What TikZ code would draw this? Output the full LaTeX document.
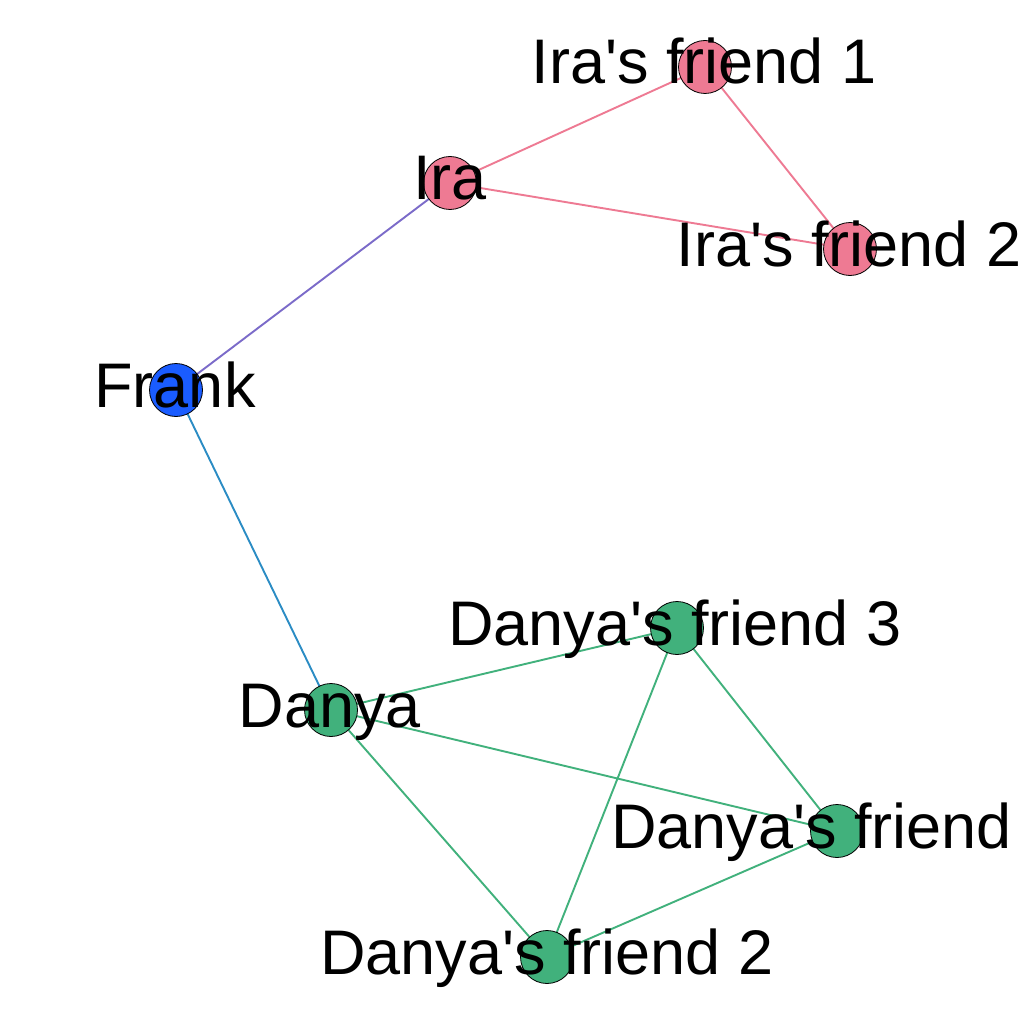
\documentclass[tikz,border=0pt]{standalone}
\usepackage{fontspec}
\setmainfont{Liberation Sans}
\usetikzlibrary{backgrounds}
\definecolor{pinkc}{HTML}{EE7A93}
\definecolor{greenc}{HTML}{41B17C}
\definecolor{bluec}{HTML}{1A5CFF}
\definecolor{purplec}{HTML}{7B6BC9}
\definecolor{edgeblue}{HTML}{2B8CC4}
\newcommand{\ap}{\textquotesingle}
\begin{document}
\begin{tikzpicture}[x=1pt,y=-1pt,
  vert/.style={circle,draw=black,line width=0.8pt,minimum size=53pt,inner sep=0pt},
  lab/.style={anchor=base,inner sep=0pt,font=\fontsize{63}{63}\selectfont},
  edge/.style={line width=1.9pt}]
\useasboundingbox (0,0) rectangle (1024,1024);
% vertices
\node[vert,fill=pinkc] (if1) at (705,67) {};
\node[vert,fill=pinkc] (ira) at (450,183) {};
\node[vert,fill=pinkc] (if2) at (850,249) {};
\node[vert,fill=bluec] (frank) at (176,390) {};
\node[vert,fill=greenc] (df3) at (677,628) {};
\node[vert,fill=greenc] (danya) at (331,710) {};
\node[vert,fill=greenc] (df1) at (837,831) {};
\node[vert,fill=greenc] (df2) at (547,957) {};
% edges
\begin{pgfonlayer}{background}
\fill[white] (0,0) rectangle (1024,1024);
\draw[edge,pinkc] (ira.center) -- (if1.center);
\draw[edge,pinkc] (ira.center) -- (if2.center);
\draw[edge,pinkc] (if1.center) -- (if2.center);
\draw[edge,purplec] (frank.center) -- (ira.center);
\draw[edge,edgeblue] (frank.center) -- (danya.center);
\draw[edge,greenc] (danya.center) -- (df3.center);
\draw[edge,greenc] (danya.center) -- (df1.center);
\draw[edge,greenc] (danya.center) -- (df2.center);
\draw[edge,greenc] (df3.center) -- (df1.center);
\draw[edge,greenc] (df3.center) -- (df2.center);
\draw[edge,greenc] (df1.center) -- (df2.center);
\end{pgfonlayer}
% labels
\node[lab] (lif1) at (704,84) {Ira\ap s friend 1};
\node[lab] (lira) at (450,200) {Ira};
\node[lab] (lif2) at (849,266) {Ira\ap s friend 2};
\node[lab] (lfrank) at (175,407) {Frank};
\node[lab] (ldf3) at (675,645) {Danya\ap s friend 3};
\node[lab] (ldanya) at (330,727) {Danya};
\node[lab,anchor=base west] (ldf1) at (611,848) {Danya\ap s friend};
\node[lab] (ldf2) at (547,974) {Danya\ap s friend 2};
\end{tikzpicture}
\end{document}
